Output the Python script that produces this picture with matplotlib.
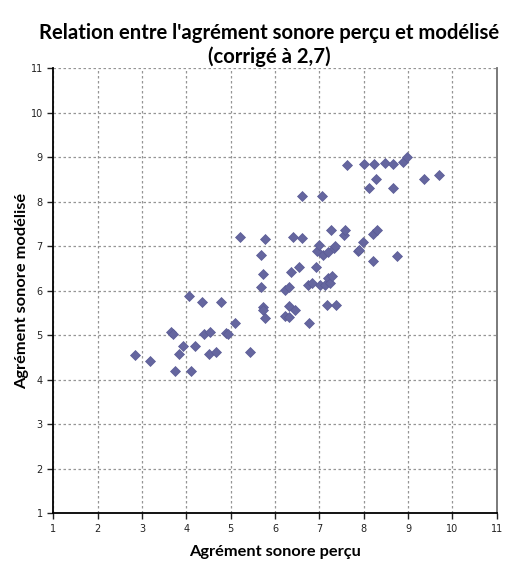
import matplotlib
matplotlib.use("Agg")
import matplotlib.pyplot as plt

# perceived (x) vs modelled (y) sound pleasantness
percu = [2.84, 3.17, 3.65, 3.70, 3.75, 3.84, 3.93, 4.10, 4.07, 4.20,
         4.35, 4.40, 4.53, 4.51, 4.66, 4.78, 4.89, 4.93, 5.10, 5.21,
         5.44, 5.68, 5.72, 5.68, 5.72, 5.73, 5.78, 5.78, 6.23, 6.32,
         6.23, 6.32, 6.32, 6.45, 6.36, 6.54, 6.41, 6.60, 6.60, 6.75,
         6.83, 6.77, 6.92, 6.94, 6.98, 7.02, 7.05, 7.09, 7.13, 7.20,
         7.20, 7.24, 7.18, 7.26, 7.28, 7.32, 7.35, 7.38, 7.56, 7.58,
         7.62, 7.86, 7.90, 7.99, 8.00, 8.11, 8.20, 8.20, 8.23, 8.27,
         8.30, 8.48, 8.65, 8.67, 8.75, 8.88, 8.97, 9.36, 9.69]
modelise = [4.56, 4.42, 5.07, 5.03, 4.20, 4.58, 4.76, 4.20, 5.88, 4.76,
            5.74, 5.04, 5.07, 4.58, 4.62, 5.74, 5.06, 5.04, 5.27, 7.20,
            4.62, 6.80, 6.39, 6.09, 5.64, 5.58, 5.40, 7.17, 6.02, 6.09,
            5.43, 5.42, 5.66, 5.57, 6.42, 6.53, 7.20, 7.18, 8.13, 6.13,
            6.17, 5.28, 6.53, 6.90, 7.03, 6.13, 8.13, 6.80, 6.13, 6.88,
            6.28, 6.17, 5.69, 7.37, 6.33, 6.96, 7.01, 5.69, 7.26, 7.37,
            8.84, 6.90, 6.93, 7.10, 8.85, 8.32, 6.68, 7.28, 8.85, 8.51,
            7.36, 8.87, 8.85, 8.32, 6.79, 8.89, 9.00, 8.51, 8.61]
ticks = list(range(1, 12))

fig = plt.figure(figsize=(5.17, 5.61), dpi=100)
ax = fig.add_axes([0.103, 0.085, 0.858, 0.793])

ax.plot(percu, modelise, linestyle="none", marker="D", ms=5,
        color="#65669f", mec="#5a5b96", mew=0.5, zorder=3)

ax.set_xlim(1, 11)
ax.set_ylim(1, 11)
ax.set_xticks(ticks)
ax.set_yticks(ticks)
ax.grid(True, linestyle=(0, (2, 2)), color="#959595", linewidth=0.9)
ax.tick_params(direction="out", length=4, width=1, labelsize=7, colors="#222222")

for s in ["left", "bottom"]:
    ax.spines[s].set_linewidth(1.3)
    ax.spines[s].set_color("black")
ax.spines["top"].set_visible(False)
ax.spines["right"].set_color("#707070")
ax.spines["right"].set_linewidth(1.3)

ax.set_xlabel("Agrément sonore perçu", fontsize=11.8, fontweight="bold",
              family=["Lato", "DejaVu Sans"], labelpad=8)
ax.set_ylabel("Agrément sonore modélisé", fontsize=11.8, fontweight="bold",
              family=["Lato", "DejaVu Sans"], labelpad=1)

fig.text(0.52, 0.92, "Relation entre l'agrément sonore perçu et modélisé\n(corrigé à 2,7)",
         ha="center", va="center", fontsize=14.6, fontweight="bold",
         family=["Lato", "DejaVu Sans"], linespacing=1.25)

fig.savefig("out.png", dpi=100)
